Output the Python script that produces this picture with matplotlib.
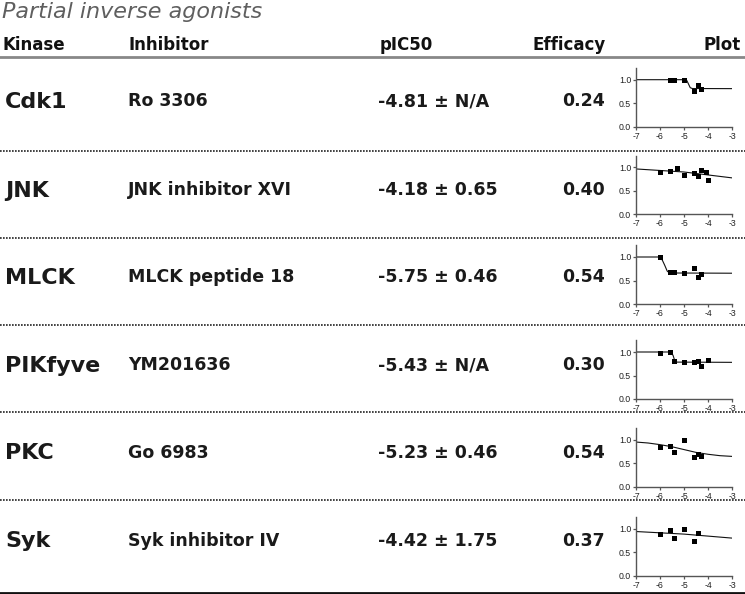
import matplotlib.pyplot as plt
from matplotlib.lines import Line2D

W, H = 745, 594

# table contents
kinases = ["Cdk1", "JNK", "MLCK", "PIKfyve", "PKC", "Syk"]
inhibitors = ["Ro 3306", "JNK inhibitor XVI", "MLCK peptide 18", "YM201636",
              "Go 6983", "Syk inhibitor IV"]
pic50 = ["-4.81 ± N/A", "-4.18 ± 0.65", "-5.75 ± 0.46", "-5.43 ± N/A",
         "-5.23 ± 0.46", "-4.42 ± 1.75"]
efficacy = ["0.24", "0.40", "0.54", "0.30", "0.54", "0.37"]

# dose-response points (log M, normalised response)
pts_x = [
    [-5.6, -5.4, -5.0, -4.6, -4.4, -4.3],
    [-6.0, -5.6, -5.3, -5.0, -4.6, -4.4, -4.3, -4.1, -4.0],
    [-6.0, -5.6, -5.4, -5.0, -4.6, -4.4, -4.3],
    [-6.0, -5.6, -5.4, -5.0, -4.6, -4.4, -4.3, -4.0],
    [-6.0, -5.6, -5.4, -5.0, -4.6, -4.4, -4.3],
    [-6.0, -5.6, -5.4, -5.0, -4.6, -4.4],
]
pts_y = [
    [0.99, 1.00, 1.00, 0.77, 0.88, 0.81],
    [0.89, 0.93, 0.99, 0.84, 0.88, 0.82, 0.94, 0.91, 0.72],
    [0.99, 0.68, 0.68, 0.655, 0.76, 0.585, 0.63],
    [0.98, 1.00, 0.81, 0.79, 0.78, 0.81, 0.71, 0.83],
    [0.84, 0.87, 0.74, 0.99, 0.63, 0.69, 0.66],
    [0.88, 0.98, 0.81, 1.00, 0.73, 0.90],
]

# fitted curves
curve_x = [
    [-7, -4.95, -4.88, -4.81, -4.74, -4.65, -3],
    [-7, -5, -3],
    [-7, -6.0, -5.9, -5.8, -5.7, -5.6, -3],
    [-7, -5.55, -5.5, -5.45, -5.42, -5.38, -5.3, -3],
    [-7, -6.5, -6, -5.5, -5, -4.5, -4, -3.5, -3],
    [-7, -5, -3],
]
curve_y = [
    [1.0, 1.0, 0.98, 0.905, 0.83, 0.812, 0.81],
    [0.965, 0.90, 0.775],
    [1.0, 1.0, 0.93, 0.82, 0.70, 0.66, 0.655],
    [1.0, 1.0, 0.97, 0.92, 0.87, 0.81, 0.785, 0.78],
    [0.95, 0.93, 0.895, 0.85, 0.79, 0.73, 0.69, 0.66, 0.645],
    [0.94, 0.885, 0.80],
]

# pixel layout
row_base = [108, 196.5, 284, 371.5, 459, 547]
plot_bottom = [126.7, 214.3, 304, 399, 486.7, 575.7]
separators = [150.5, 237.5, 325, 412, 499.5]


def fx(px):
    return px / W


def fy(py):
    return 1 - py / H


fig = plt.figure(figsize=(W / 100, H / 100), dpi=100)

fig.text(fx(2), fy(18), "Partial inverse agonists", fontsize=16,
         family="DejaVu Sans", style="italic", color="#5f5f5f",
         va="baseline")

hdr = dict(fontsize=12, weight="bold", family="DejaVu Sans", color="#111111",
           va="baseline")
fig.text(fx(3), fy(50), "Kinase", **hdr)
fig.text(fx(128), fy(50), "Inhibitor", **hdr)
fig.text(fx(380), fy(50), "pIC50", **hdr)
fig.text(fx(606), fy(50), "Efficacy", ha="right", **hdr)
fig.text(fx(741), fy(50), "Plot", ha="right", **hdr)

fig.add_artist(Line2D([0, 1], [fy(57), fy(57)], transform=fig.transFigure,
                      color="#888888", lw=2))
for s in separators:
    fig.add_artist(Line2D([0, 1], [fy(s), fy(s)], transform=fig.transFigure,
                          color="#222222", lw=1.2, linestyle=(0, (1, 0.8))))
fig.add_artist(Line2D([0, 1], [fy(592.5), fy(592.5)], transform=fig.transFigure,
                      color="#111111", lw=2))

cell = dict(weight="bold", family="DejaVu Sans", color="#1a1a1a", va="baseline")
for i in range(len(kinases)):
    b = row_base[i]
    fig.text(fx(5), fy(b), kinases[i], fontsize=16, **cell)
    fig.text(fx(128), fy(b - 1.5), inhibitors[i], fontsize=12.5, **cell)
    fig.text(fx(378), fy(b - 1.5), pic50[i], fontsize=12.5, **cell)
    fig.text(fx(605), fy(b - 1.5), efficacy[i], fontsize=12.5, ha="right", **cell)

    h = 1.25 * 47
    ax = fig.add_axes([fx(636), fy(plot_bottom[i]), 96 / W, h / H])
    ax.plot(curve_x[i], curve_y[i], color="#111111", lw=0.8)
    ax.plot(pts_x[i], pts_y[i], "s", color="black", ms=3.6, mew=0)
    ax.set_xlim(-7, -3)
    ax.set_ylim(0, 1.25)
    ax.set_xticks([-7, -6, -5, -4, -3])
    ax.set_xticklabels(["-7", "-6", "-5", "-4", "-3"])
    ax.set_yticks([0, 0.5, 1.0])
    ax.set_yticklabels(["0.0", "0.5", "1.0"])
    for sp in ["top", "right"]:
        ax.spines[sp].set_visible(False)
    for sp in ["left", "bottom"]:
        ax.spines[sp].set_color("#555555")
        ax.spines[sp].set_linewidth(1.0)
    ax.tick_params(length=2.5, width=0.9, color="#555555", pad=1,
                   labelsize=6.3, labelcolor="#222222")
    for lab in ax.get_xticklabels() + ax.get_yticklabels():
        lab.set_family("Liberation Sans")
    ax.patch.set_alpha(0)

fig.savefig("out.png", dpi=100)
